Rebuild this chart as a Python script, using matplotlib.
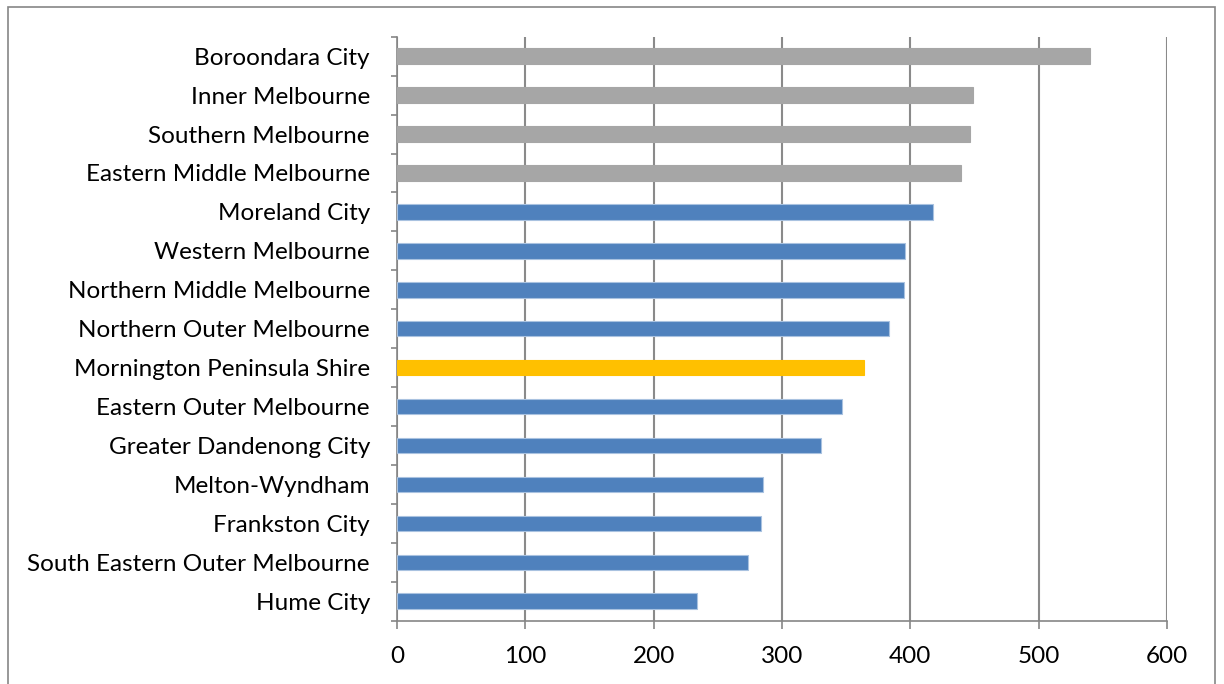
import matplotlib
matplotlib.use("Agg")
import matplotlib.pyplot as plt
from matplotlib.patches import Rectangle
import numpy as np

# Regions, listed top to bottom
regions = [
    "Boroondara City",
    "Inner Melbourne",
    "Southern Melbourne",
    "Eastern Middle Melbourne",
    "Moreland City",
    "Western Melbourne",
    "Northern Middle Melbourne",
    "Northern Outer Melbourne",
    "Mornington Peninsula Shire",
    "Eastern Outer Melbourne",
    "Greater Dandenong City",
    "Melton-Wyndham",
    "Frankston City",
    "South Eastern Outer Melbourne",
    "Hume City",
]
values = [540, 449, 446.6, 439.6, 417.4, 396.1, 395.3, 383.6, 363.9,
          346.8, 330.2, 285.5, 283.9, 273.8, 234.0]
groups = ["ref", "ref", "ref", "ref", "other", "other", "other", "other",
          "focus", "other", "other", "other", "other", "other", "other"]
x_ticks = [0, 100, 200, 300, 400, 500, 600]

palette = {"ref": "#A6A6A6", "other": "#4F81BD", "focus": "#FFC000"}
edges = {"ref": "#A6A6A6", "other": "#A9C2E0", "focus": "#FFC000"}

plt.rcParams['font.family'] = ['Lato', 'DejaVu Sans']
FS = 17.5

fig = plt.figure(figsize=(12.24, 6.84), dpi=100)
ax = fig.add_axes([397 / 1224, 1 - 620.7 / 684, (1167 - 397) / 1224, (620.7 - 36.7) / 684])

n = len(regions)
ypos = np.arange(n)[::-1]
ax.barh(ypos, values, height=0.4,
        color=[palette[g] for g in groups],
        edgecolor=[edges[g] for g in groups], linewidth=0.8, zorder=3)

ax.set_xlim(0, 600)
ax.set_ylim(-0.5, n - 0.5)
ax.set_xticks(x_ticks)
ax.set_xticklabels([str(t) for t in x_ticks], fontsize=FS)

ax.set_yticks(ypos)
ax.set_yticklabels(regions, fontsize=FS)
ax.tick_params(axis='y', which='major', length=0, pad=19.5)
ax.set_yticks(np.arange(-0.5, n, 1.0), minor=True)
ax.tick_params(axis='y', which='minor', length=4, width=1.2, color='#868686')
ax.tick_params(axis='x', which='major', length=6, width=1.2, color='#868686', pad=12)

ax.grid(axis='x', color='#8a8a8a', linewidth=1.5, zorder=0)
ax.set_axisbelow(True)
for side in ('top', 'right'):
    ax.spines[side].set_visible(False)
for side in ('left', 'bottom'):
    ax.spines[side].set_color('#868686')
    ax.spines[side].set_linewidth(1.2)

# chart-area frame
fig.patches.append(Rectangle((8 / 1224, -0.05), (1215 - 8) / 1224, 1 - 7 / 684 + 0.05,
                             transform=fig.transFigure, fill=False,
                             edgecolor='#868686', linewidth=1.2))

fig.savefig("out.png", dpi=100)
